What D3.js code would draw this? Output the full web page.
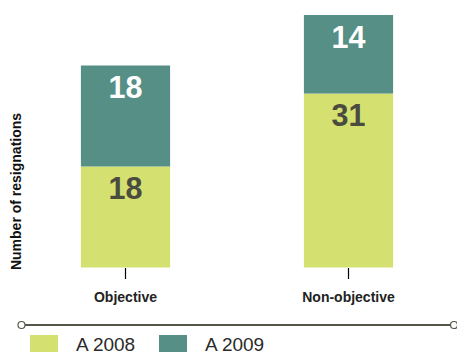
<!DOCTYPE html>
<html><head><meta charset="utf-8">
<script src="https://cdn.jsdelivr.net/npm/d3@7"></script>
<style>body{margin:0;background:#fff}svg{display:block}text{font-family:"Liberation Sans",Arial,sans-serif}</style>
</head><body>
<script>
const categories = ["Objective", "Non-objective"];
const series = ["A 2008", "A 2009"];
const values2008 = [18, 31];
const values2009 = [18, 14];
const colors = ["#d4e170", "#558f86"];
const labelColors = ["#4b4b3f", "#ffffff"];

const W = 457, H = 352;
const svg = d3.select("body").append("svg").attr("width", W).attr("height", H);

const x = d3.scaleBand().domain(categories).range([14, 460]).paddingInner(0.6).paddingOuter(0.3);
const y = d3.scaleLinear().domain([0, 45]).range([267.5, 15]);

const data = categories.map((c, i) => ({cat: c, v: [values2008[i], values2009[i]]}));
const stack = d3.stack().keys([0, 1]).value((d, k) => d.v[k]);
const layers = stack(data);

layers.forEach((layer, k) => {
  const g = svg.append("g");
  g.selectAll("rect").data(layer).enter().append("rect")
    .attr("x", d => x(d.data.cat)).attr("width", x.bandwidth())
    .attr("y", d => y(d[1])).attr("height", d => y(d[0]) - y(d[1]))
    .attr("fill", colors[k]);
  g.selectAll("text").data(layer).enter().append("text")
    .attr("x", d => x(d.data.cat) + x.bandwidth() / 2)
    .attr("y", d => y(d[1]) + 32.5)
    .attr("text-anchor", "middle")
    .attr("font-size", 30.5).attr("font-weight", "bold")
    .attr("fill", labelColors[k])
    .text(d => d[1] - d[0]);
});

const axis = svg.append("g").attr("transform", "translate(0,268)")
  .call(d3.axisBottom(x).tickSize(11).tickPadding(12));
axis.select(".domain").remove();
axis.selectAll(".tick line").attr("stroke", "#000").attr("stroke-width", 1.2);
axis.selectAll(".tick text").attr("font-size", 14).attr("font-weight", "bold")
  .attr("fill", "#222").attr("dy", 0).attr("y", 34)
  .attr("font-family", '"Liberation Sans",Arial,sans-serif');

svg.append("text")
  .attr("transform", "translate(21,191.5) rotate(-90)")
  .attr("text-anchor", "middle").attr("font-size", 14).attr("font-weight", "bold")
  .attr("fill", "#111").text("Number of resignations");

// separator line
svg.append("line").attr("x1", 25).attr("x2", 450).attr("y1", 325).attr("y2", 325)
  .attr("stroke", "#55564a").attr("stroke-width", 2.2);
[21.5, 454].forEach(cx => svg.append("circle").attr("cx", cx).attr("cy", 325).attr("r", 3.5)
  .attr("fill", "#fff").attr("stroke", "#55564a").attr("stroke-width", 1.2));

// legend
const legX = [30, 159];
series.forEach((s, i) => {
  svg.append("rect").attr("x", legX[i]).attr("y", 335).attr("width", 28).attr("height", 20).attr("fill", colors[i]);
  svg.append("text").attr("x", legX[i] + 46).attr("y", 350.5).attr("font-size", 19)
    .attr("fill", "#2a2a2a").text(s);
});
</script>
</body></html>
